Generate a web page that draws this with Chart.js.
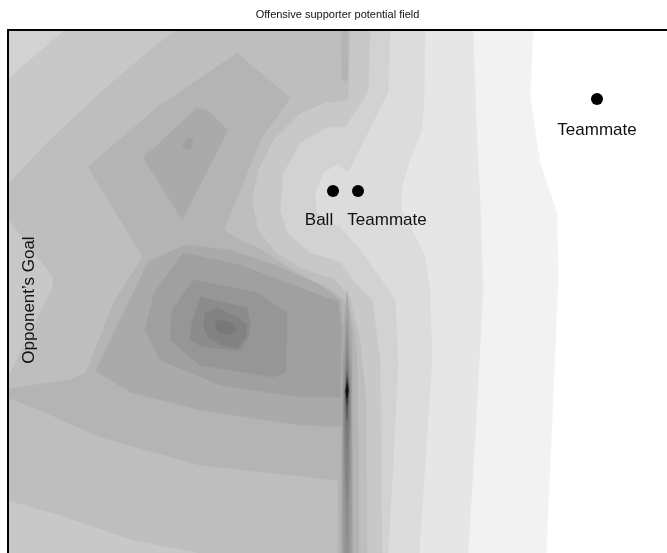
<!DOCTYPE html>
<html>
<head>
<meta charset="utf-8">
<script src="https://cdn.jsdelivr.net/npm/chart.js@4/dist/chart.umd.min.js"></script>
<style>
html,body{margin:0;padding:0;background:#fff;}
#wrap{width:667px;height:553px;}
</style>
</head>
<body>
<div id="wrap"><canvas id="c" width="667" height="553"></canvas></div>
<script>
// ---- chart text ----
const chartTitle = "Offensive supporter potential field";
const goalLabel = "Opponent\u2019s Goal";
const goalPos = [29, 300];
// ---- players (field coordinates) ----
const playerX = [333, 358, 597];
const playerY = [191, 191, 99];
const labelText = ["Ball", "Teammate", "Teammate"];
const labelX = [319, 387, 597];
const labelY = [220, 220, 130];

// ---- contour level colours (light -> dark) ----
const levelColors = ["#f2f2f2","#e6e6e6","#dcdcdc","#d2d2d2","#c8c8c8","#bebebe","#b4b4b4",
  "#aaaaaa","#a0a0a0","#969696","#8c8c8c","#828282","#787878","#6e6e6e","#555555","#333333","#111111"];

// ---- contour regions (region at or below each level) ----
const levelB = [[-50,-50],[533,-50],[533,30],[530,97],[540,163],[557,213],[558,280],[552,420],[546,553],[546,600],[-50,600]];
const levelC = [[-50,-50],[473,-50],[473,30],[476,120],[480,200],[483,290],[476,420],[468,553],[468,600],[-50,600]];
const levelD = [[-50,-50],[425,-50],[425,30],[424,100],[422,130],[410,160],[401,190],[401,210],[410,225],[425,257],[430,290],[432,360],[426,450],[419,553],[419,600],[-50,600]];
const levelE = [[-50,-50],[390,-50],[390,30],[388,92],[348,172],[338,163],[323,173],[315,193],[316,212],[325,222],[340,227],[360,250],[385,285],[395,300],[398,363],[393,463],[388,553],[388,600],[-50,600]];
const levelF = [[-50,90],[7,80],[65,30],[65,-50],[370,-50],[370,30],[368,92],[345,127],[327,127],[300,143],[283,173],[280,210],[287,233],[310,253],[340,262],[355,283],[372,300],[380,360],[382,553],[382,600],[-50,600]];
const levelG = [[-50,195],[7,185],[50,140],[100,93],[150,50],[176,30],[178,-50],[350,-50],[350,30],[348,100],[327,102],[300,113],[273,140],[258,170],[252,200],[258,230],[275,252],[300,268],[335,280],[350,298],[360,340],[366,400],[367,553],[367,600],[210,600],[200,553],[133,540],[60,515],[7,500],[-50,495],[-50,385],[7,380],[53,287],[53,277],[7,217],[-50,210]];
const levelH = [[237,53],[290,98],[262,137],[240,190],[224,230],[240,240],[262,250],[285,265],[310,280],[335,292],[348,305],[354,330],[357,360],[358,450],[358,553],[358,600],[338,600],[338,480],[300,476],[200,465],[100,437],[40,410],[7,397],[-50,396],[-50,388],[7,389],[70,380],[86,373],[115,300],[143,257],[88,167],[160,105]];
const stripH = [[341,-50],[348,-50],[348,30],[347.5,79],[345,83],[342,79],[341,30]];
const kiteI = [[143,158],[197,108],[207,110],[228,130],[182,220]];
const lowerI = [[148,262],[185,245],[230,250],[275,265],[320,285],[340,300],[343,330],[342,427],[300,425],[200,410],[130,392],[96,371],[120,320]];
const patchJ = [[182,148],[188,137],[193,140],[190,150]];
const lowerJ = [[183,253],[240,265],[300,288],[338,302],[341,330],[340,397],[300,397],[220,385],[160,360],[145,330],[155,290]];
const lowerK = [[193,280],[258,293],[287,313],[286,372],[273,377],[200,365],[170,340],[172,310]];
const lowerL = [[200,297],[247,308],[250,325],[248,338],[240,350],[203,347],[190,340],[192,322]];
const lowerM = [[205,313],[217,308],[237,317],[247,325],[245,338],[237,348],[222,345],[208,337],[203,325]];
const lowerN = [[217,320],[230,322],[237,330],[230,334],[220,333],[215,327]];
const spikeI = [[347,290],[352,340],[353,553],[353,600],[341,600],[341,553],[342,340]];
const spikeJ = [[347,305],[351,360],[351.5,553],[351.5,600],[342.5,600],[342.5,553],[343,360]];
const spikeK = [[347,320],[350.5,380],[350.5,480],[349.5,600],[344.5,600],[343.5,480],[343.5,380]];
const spikeL = [[347,335],[350,385],[349.5,460],[347,553],[344.5,460],[344,385]];
const spikeM = [[347,350],[349.5,388],[349,430],[347,500],[345,430],[344.5,388]];
const spikeN = [[347,362],[349,389],[348.5,410],[347,450],[345.5,410],[345,389]];
const spikeO = [[347,372],[348.7,390],[347,420],[345.3,390]];
const spikeP = [[347,378],[348.4,390],[347,405],[345.6,390]];
const spikeQ = [[347,383],[348.2,390],[347,398],[345.8,390]];

// level index for each region, drawn in this order (lightest first)
const regions = [
  [levelB,0],[levelC,1],[levelD,2],[levelE,3],[levelF,4],[levelG,5],[levelH,6],[stripH,6],
  [kiteI,7],[lowerI,7],[spikeI,7],[patchJ,8],[lowerJ,8],[spikeJ,8],[lowerK,9],[spikeK,9],
  [lowerL,10],[spikeL,10],[lowerM,11],[spikeM,11],[lowerN,12],[spikeN,12],[spikeO,14],[spikeP,15],[spikeQ,16]
];

const datasets = regions.map((r, i) => ({
  data: r[0].map(p => ({x: p[0], y: p[1]})),
  showLine: true,
  fill: 'shape',
  backgroundColor: levelColors[r[1]],
  borderColor: levelColors[r[1]],
  borderWidth: 0.6,
  pointRadius: 0,
  tension: 0,
  clip: 0,
  order: 1000 - i
}));
datasets.push({
  data: playerX.map((x, i) => ({x: x, y: playerY[i]})),
  showLine: false,
  pointRadius: 6,
  pointBackgroundColor: '#000',
  pointBorderColor: '#000',
  borderWidth: 0,
  clip: 0,
  order: 0
});

const textPlugin = {
  id: 'fieldText',
  afterDatasetsDraw(chart) {
    const {ctx, scales: {x, y}} = chart;
    ctx.save();
    ctx.fillStyle = '#111';
    ctx.font = '17px "Liberation Sans", Arial, sans-serif';
    ctx.textAlign = 'center';
    ctx.textBaseline = 'middle';
    labelText.forEach((t, i) => ctx.fillText(t, x.getPixelForValue(labelX[i]), y.getPixelForValue(labelY[i])));
    ctx.translate(x.getPixelForValue(goalPos[0]), y.getPixelForValue(goalPos[1]));
    ctx.rotate(-Math.PI / 2);
    ctx.fillText(goalLabel, 0, 0);
    ctx.restore();
  }
};

new Chart(document.getElementById('c'), {
  type: 'scatter',
  data: {datasets},
  options: {
    responsive: false,
    animation: false,
    events: [],
    devicePixelRatio: 1,
    layout: {autoPadding: false, padding: {left: 8, right: 0, top: 0, bottom: 0}},
    plugins: {
      legend: {display: false},
      tooltip: {enabled: false},
      title: {
        display: true,
        text: chartTitle,
        color: '#111',
        font: {family: '"Liberation Sans", Arial, sans-serif', size: 11, weight: 'normal', lineHeight: 1},
        padding: {top: 9.5, bottom: 9.5}
      }
    },
    scales: {
      x: {
        type: 'linear', position: 'top', min: 8, max: 667,
        ticks: {display: false}, grid: {display: false, drawTicks: false, tickLength: 0},
        border: {display: true, color: '#000', width: 2, z: 1}
      },
      y: {
        type: 'linear', position: 'left', min: 30, max: 553, reverse: true,
        ticks: {display: false}, grid: {display: false, drawTicks: false, tickLength: 0},
        border: {display: true, color: '#000', width: 2, z: 1}
      }
    }
  },
  plugins: [textPlugin]
});
</script>
</body>
</html>
